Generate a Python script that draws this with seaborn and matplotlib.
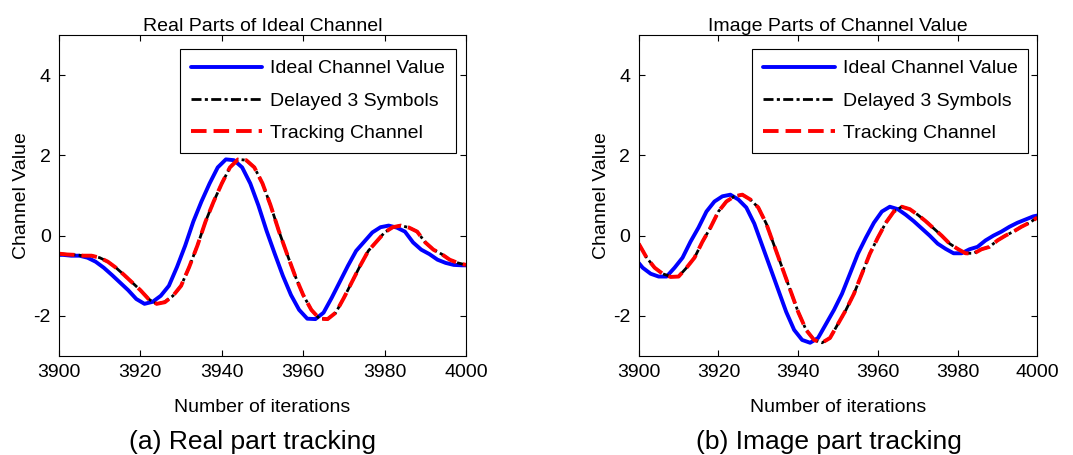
import numpy as np
import pandas as pd
import matplotlib
matplotlib.use("Agg")
import matplotlib.pyplot as plt
import seaborn as sns

# ---------------- data ----------------
ideal_x = [3900] + list(range(3901, 4000, 2)) + [4000]
delay_x = list(range(3900, 4001, 2))

real_ideal = [-0.48, -0.48, -0.50, -0.50, -0.55, -0.65, -0.80, -0.98, -1.17, -1.36,
              -1.58, -1.70, -1.65, -1.50, -1.25, -0.78, -0.25, 0.35, 0.85, 1.30,
              1.70, 1.90, 1.88, 1.70, 1.30, 0.75, 0.12, -0.45, -1.00, -1.48,
              -1.85, -2.07, -2.08, -1.92, -1.55, -1.15, -0.75, -0.38, -0.15, 0.08,
              0.21, 0.25, 0.20, 0.10, -0.17, -0.35, -0.46, -0.60, -0.68, -0.73,
              -0.74, -0.74]
real_delayed = [-0.45, -0.47, -0.48, -0.50, -0.50, -0.55, -0.65, -0.80, -0.98, -1.17,
                -1.36, -1.58, -1.70, -1.65, -1.50, -1.25, -0.78, -0.25, 0.35, 0.85,
                1.30, 1.70, 1.90, 1.88, 1.70, 1.30, 0.75, 0.12, -0.45, -1.00,
                -1.48, -1.85, -2.07, -2.08, -1.92, -1.55, -1.15, -0.75, -0.38, -0.15,
                0.08, 0.21, 0.25, 0.20, 0.10, -0.17, -0.35, -0.46, -0.60, -0.68,
                -0.73]
real_tracking = [-0.45, -0.47, -0.48, -0.50, -0.50, -0.55, -0.65, -0.80, -0.98, -1.17,
                 -1.36, -1.58, -1.70, -1.66, -1.50, -1.25, -0.78, -0.25, 0.35, 0.85,
                 1.30, 1.70, 1.90, 1.88, 1.70, 1.30, 0.75, 0.12, -0.45, -1.00,
                 -1.48, -1.85, -2.07, -2.08, -1.92, -1.55, -1.15, -0.75, -0.38, -0.15,
                 0.08, 0.21, 0.25, 0.20, 0.10, -0.17, -0.35, -0.46, -0.60, -0.68,
                 -0.73]

imag_ideal = [-0.68, -0.80, -0.95, -1.02, -1.02, -0.80, -0.55, -0.15, 0.20, 0.60,
              0.85, 0.98, 1.02, 0.90, 0.70, 0.30, -0.25, -0.80, -1.35, -1.90,
              -2.35, -2.60, -2.67, -2.55, -2.20, -1.85, -1.45, -0.95, -0.45, -0.05,
              0.32, 0.60, 0.72, 0.66, 0.52, 0.36, 0.18, 0.00, -0.20, -0.33,
              -0.44, -0.44, -0.34, -0.28, -0.12, 0.00, 0.10, 0.22, 0.32, 0.40,
              0.48, 0.50]
imag_delayed = [-0.20, -0.55, -0.80, -0.95, -1.02, -1.02, -0.80, -0.55, -0.15, 0.20,
                0.60, 0.85, 0.98, 1.02, 0.90, 0.70, 0.30, -0.25, -0.80, -1.35,
                -1.90, -2.35, -2.60, -2.67, -2.55, -2.20, -1.85, -1.45, -0.95, -0.45,
                -0.05, 0.32, 0.60, 0.72, 0.66, 0.52, 0.36, 0.18, 0.00, -0.20,
                -0.33, -0.44, -0.44, -0.34, -0.28, -0.12, 0.00, 0.10, 0.22, 0.32,
                0.45]
imag_tracking = [-0.20, -0.55, -0.80, -0.95, -1.03, -1.02, -0.80, -0.55, -0.15, 0.20,
                 0.60, 0.85, 0.98, 1.02, 0.90, 0.70, 0.30, -0.25, -0.80, -1.35,
                 -1.90, -2.35, -2.60, -2.67, -2.55, -2.20, -1.85, -1.45, -0.95, -0.45,
                 -0.05, 0.32, 0.60, 0.72, 0.66, 0.52, 0.36, 0.18, 0.00, -0.20,
                 -0.33, -0.44, -0.45, -0.34, -0.28, -0.12, 0.00, 0.10, 0.22, 0.32,
                 0.45]

titles = ["Real Parts of Ideal Channel", "Image Parts of Channel Value"]
captions = ["(a) Real part tracking", "(b) Image part tracking"]
series_labels = ["Ideal Channel Value", "Delayed 3 Symbols", "Tracking Channel"]
x_ticks = [3900, 3920, 3940, 3960, 3980, 4000]
y_ticks = [-2, 0, 2, 4]
x_label = "Number of iterations"
y_label = "Channel Value"

# ---------------- style ----------------
sns.set_style("ticks")
plt.rcParams["font.family"] = ["Liberation Sans", "DejaVu Sans"]
plt.rcParams["axes.unicode_minus"] = False
for k in ["text.color", "axes.labelcolor", "xtick.color", "ytick.color",
          "axes.edgecolor"]:
    plt.rcParams[k] = "black"
FS = 14

fig = plt.figure(figsize=(10.73, 4.55), dpi=100)
ax_pos = [[59 / 1073, 99 / 455, 407 / 1073, 321 / 455],
          [638.7 / 1073, 99 / 455, 398.6 / 1073, 321 / 455]]
legend_anchor = [(0.975, 0.956), (0.9775, 0.956)]
caption_x = [252.5 / 1073, 829 / 1073]

panels = [(real_ideal, real_delayed, real_tracking),
          (imag_ideal, imag_delayed, imag_tracking)]

for i, (ide, dly, trk) in enumerate(panels):
    ax = fig.add_axes(ax_pos[i])
    df_i = pd.DataFrame({"x": ideal_x, "y": ide})
    df_d = pd.DataFrame({"x": delay_x, "y": dly})
    df_t = pd.DataFrame({"x": delay_x, "y": trk})
    sns.lineplot(data=df_i, x="x", y="y", ax=ax, color="#0000ff", linewidth=2.8,
                 label=series_labels[0])
    sns.lineplot(data=df_d, x="x", y="y", ax=ax, color="black", linewidth=2.0,
                 linestyle=(0, (3.6, 1.2, 1.1, 1.2)), label=series_labels[1])
    sns.lineplot(data=df_t, x="x", y="y", ax=ax, color="#ff0000", linewidth=2.8,
                 linestyle=(0, (4.0, 1.8)), label=series_labels[2])
    ax.set_xlim(3900, 4000)
    ax.set_ylim(-3, 5)
    ax.set_xticks(x_ticks)
    ax.set_yticks(y_ticks)
    ax.tick_params(direction="in", top=True, right=True, length=4, width=0.8,
                   labelsize=FS, pad=6, colors="black")
    for s in ax.spines.values():
        s.set_visible(True)
        s.set_linewidth(0.8)
        s.set_color("black")
    ax.set_xlabel(x_label, fontsize=FS, labelpad=13)
    ax.set_ylabel(y_label, fontsize=FS, labelpad=2.5)
    ax.set_title(titles[i], fontsize=FS, pad=3)
    leg = ax.legend(loc="upper right", bbox_to_anchor=legend_anchor[i],
                    borderaxespad=0, fontsize=FS, handlelength=3.7,
                    handletextpad=0.4, labelspacing=0.76, borderpad=0.55,
                    fancybox=False, framealpha=1, edgecolor="black")
    leg.get_frame().set_linewidth(0.8)
    fig.text(caption_x[i], 6 / 455, captions[i], ha="center", va="baseline",
             fontsize=19)

fig.savefig("out.png", dpi=100)
